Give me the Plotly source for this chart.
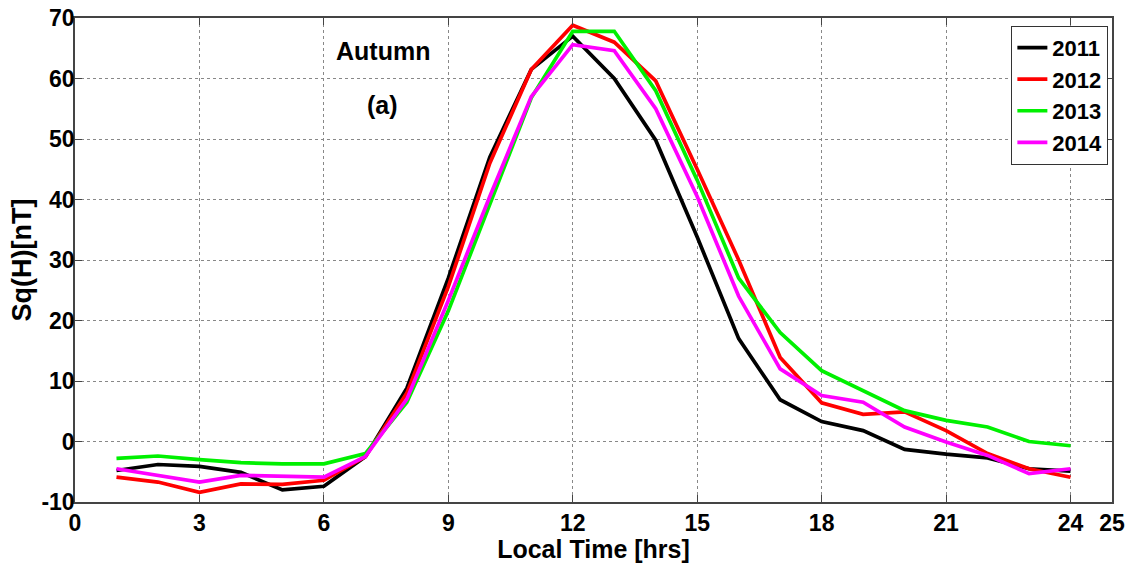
import plotly.graph_objects as go

hours = list(range(1, 25))
y2011 = [-4.8, -3.8, -4.1, -5.1, -8.0, -7.4, -2.5, 8.8, 27.0, 47.0, 61.5, 67.0,
         60.0, 49.8, 33.8, 17.0, 6.9, 3.3, 1.8, -1.3, -2.1, -2.7, -4.5, -4.9]
y2012 = [-5.9, -6.7, -8.4, -7.0, -7.1, -6.4, -2.5, 8.0, 25.6, 46.0, 61.5, 68.8,
         66.0, 59.6, 45.0, 30.0, 13.9, 6.4, 4.5, 4.9, 1.8, -2.0, -4.5, -5.9]
y2013 = [-2.8, -2.4, -3.0, -3.5, -3.7, -3.7, -2.0, 6.5, 21.6, 39.0, 56.8, 67.8,
         67.8, 58.0, 43.2, 27.0, 18.0, 11.7, 8.4, 5.1, 3.5, 2.4, 0.0, -0.7]
y2014 = [-4.5, -5.6, -6.7, -5.6, -5.8, -5.9, -2.5, 7.0, 23.3, 40.5, 57.0, 65.6,
         64.6, 55.0, 40.5, 24.0, 12.0, 7.6, 6.5, 2.4, -0.1, -2.3, -5.3, -4.5]

series = [("2011", y2011, "#000000"), ("2012", y2012, "#ff0000"),
          ("2013", y2013, "#00f000"), ("2014", y2014, "#ff00ff")]

x_ticks = [0, 3, 6, 9, 12, 15, 18, 21, 24, 25]
y_ticks = [-10, 0, 10, 20, 30, 40, 50, 60, 70]

FONT = "Liberation Sans, Arial"

fig = go.Figure()
for name, ys, col in series:
    fig.add_trace(go.Scatter(x=hours, y=ys, mode="lines", name=f"<b>{name}</b>",
                             line=dict(color=col, width=3.7)))

axis_common = dict(
    showline=True, linecolor="#444444", linewidth=1.5, mirror="ticks",
    ticks="inside", ticklen=7, tickcolor="#444444",
    showgrid=True, gridcolor="#888888", griddash="dot", gridwidth=1,
    zeroline=False, automargin=False,
    tickfont=dict(family=FONT, size=23, color="#000000"),
)

fig.update_layout(
    width=1130, height=563,
    margin=dict(l=75, r=18, t=18, b=61),
    paper_bgcolor="white", plot_bgcolor="white",
    xaxis=dict(range=[0, 25], tickvals=x_ticks,
               ticktext=[f"<b>{t}</b>" for t in x_ticks],
               title=dict(text="<b>Local Time [hrs]</b>", standoff=0,
                          font=dict(family=FONT, size=25, color="#000")),
               **axis_common),
    yaxis=dict(range=[-10, 70], tickvals=y_ticks,
               ticktext=[f"<b>{t}</b>" for t in y_ticks],
               ticklabelstandoff=-6,
               title=dict(text="<b>Sq(H)[nT]</b>", standoff=2,
                          font=dict(family=FONT, size=27, color="#000")),
               **axis_common),
    legend=dict(x=0.9965, y=0.984, xanchor="right", yanchor="top",
                bgcolor="white", bordercolor="#333333", borderwidth=1,
                font=dict(family=FONT, size=22, color="#000"),
                tracegroupgap=0),
    showlegend=True,
)

fig.add_annotation(x=7.42, y=64.6, text="<b>Autumn</b>", showarrow=False,
                   font=dict(family=FONT, size=25, color="#000"))
fig.add_annotation(x=7.42, y=55.7, text="<b>(a)</b>", showarrow=False,
                   font=dict(family=FONT, size=25, color="#000"))

fig.write_html("out.html")
